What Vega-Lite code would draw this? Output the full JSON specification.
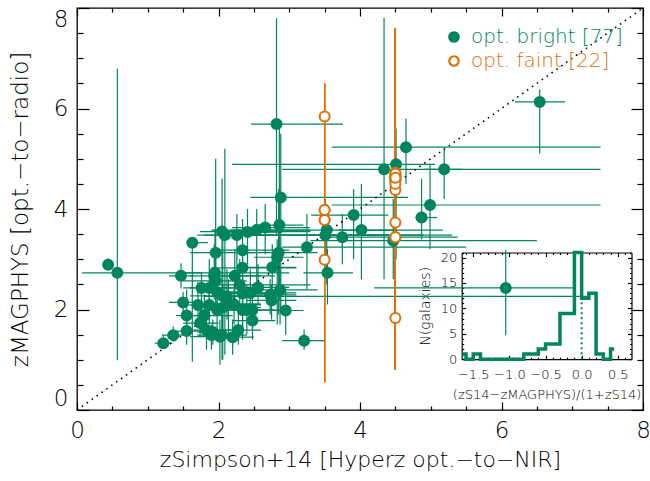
{
  "$schema": "https://vega.github.io/schema/vega-lite/v6.json",
  "autosize": {"type": "none"},
  "padding": {"left": 77, "top": 8, "right": 7, "bottom": 71},
  "width": 566,
  "height": 402,
  "background": "white",
  "config": {
    "view": {"stroke": "black", "strokeWidth": 1.3},
    "font": "DejaVu Sans",
    "axis": {"labelFont": "DejaVu Sans", "titleFont": "DejaVu Sans", "labelFontWeight": 200, "titleFontWeight": 200, "labelColor": "black", "titleColor": "black", "tickColor": "black", "tickWidth": 1.2, "grid": false, "labelOverlap": false, "labelBound": false, "labelFlush": false},
    "legend": {"labelFont": "DejaVu Sans", "labelFontWeight": 200}
  },
  "datasets": {
    "pts": [
      {"s":"b","x":0.44,"y":2.89,"xl":0.44,"xh":0.44,"yl":2.79,"yh":3.02},
      {"s":"b","x":0.57,"y":2.73,"xl":0.07,"xh":1.75,"yl":0.99,"yh":6.79},
      {"s":"b","x":1.22,"y":1.33,"xl":1.1,"xh":1.35,"yl":1.22,"yh":1.5},
      {"s":"b","x":1.36,"y":1.49,"xl":1.2,"xh":1.55,"yl":1.36,"yh":1.66},
      {"s":"b","x":1.47,"y":2.67,"xl":1.3,"xh":1.65,"yl":2.42,"yh":2.92},
      {"s":"b","x":1.63,"y":3.33,"xl":1.55,"xh":1.85,"yl":0.96,"yh":3.42},
      {"s":"b","x":1.5,"y":2.14,"xl":1.3,"xh":1.75,"yl":1.95,"yh":2.35},
      {"s":"b","x":1.55,"y":1.88,"xl":1.4,"xh":1.8,"yl":1.6,"yh":2.4},
      {"s":"b","x":1.55,"y":1.57,"xl":1.35,"xh":1.75,"yl":1.3,"yh":1.8},
      {"s":"b","x":1.71,"y":2.09,"xl":1.45,"xh":2.1,"yl":1.7,"yh":2.55},
      {"s":"b","x":1.76,"y":2.43,"xl":1.5,"xh":2.2,"yl":1.9,"yh":2.75},
      {"s":"b","x":1.87,"y":2.43,"xl":1.6,"xh":2.4,"yl":1.85,"yh":3.0},
      {"s":"b","x":1.87,"y":2.09,"xl":1.6,"xh":2.6,"yl":1.7,"yh":2.4},
      {"s":"b","x":1.8,"y":1.88,"xl":1.55,"xh":2.2,"yl":1.5,"yh":2.3},
      {"s":"b","x":1.74,"y":1.73,"xl":1.5,"xh":2.0,"yl":1.45,"yh":2.1},
      {"s":"b","x":1.83,"y":1.59,"xl":1.6,"xh":2.3,"yl":1.2,"yh":1.9},
      {"s":"b","x":1.9,"y":1.49,"xl":1.7,"xh":2.2,"yl":1.2,"yh":1.7},
      {"s":"b","x":1.94,"y":2.67,"xl":1.6,"xh":2.6,"yl":2.2,"yh":3.3},
      {"s":"b","x":1.95,"y":2.73,"xl":1.5,"xh":3.0,"yl":2.3,"yh":3.6},
      {"s":"b","x":1.96,"y":3.13,"xl":1.6,"xh":2.5,"yl":2.5,"yh":5.0},
      {"s":"b","x":1.96,"y":2.57,"xl":1.5,"xh":2.4,"yl":2.0,"yh":3.0},
      {"s":"b","x":2.05,"y":3.55,"xl":1.74,"xh":3.3,"yl":1.5,"yh":4.6},
      {"s":"b","x":2.09,"y":3.48,"xl":1.7,"xh":4.9,"yl":1.1,"yh":5.2},
      {"s":"b","x":2.06,"y":2.27,"xl":1.6,"xh":2.9,"yl":1.0,"yh":3.5},
      {"s":"b","x":2.12,"y":2.26,"xl":1.8,"xh":7.25,"yl":1.8,"yh":2.8},
      {"s":"b","x":2.06,"y":2.04,"xl":1.7,"xh":2.6,"yl":1.5,"yh":2.5},
      {"s":"b","x":2.14,"y":2.11,"xl":1.8,"xh":2.6,"yl":1.5,"yh":2.6},
      {"s":"b","x":2.05,"y":1.49,"xl":1.8,"xh":2.4,"yl":1.0,"yh":1.9},
      {"s":"b","x":2.02,"y":1.46,"xl":1.6,"xh":2.3,"yl":0.9,"yh":1.8},
      {"s":"b","x":2.26,"y":3.48,"xl":1.8,"xh":4.4,"yl":2.7,"yh":3.9},
      {"s":"b","x":2.41,"y":3.54,"xl":2.1,"xh":2.9,"yl":2.9,"yh":4.0},
      {"s":"b","x":2.34,"y":3.18,"xl":1.9,"xh":3.0,"yl":2.6,"yh":3.8},
      {"s":"b","x":2.34,"y":2.83,"xl":1.9,"xh":3.1,"yl":1.5,"yh":3.3},
      {"s":"b","x":2.23,"y":2.67,"xl":1.9,"xh":2.8,"yl":2.2,"yh":3.2},
      {"s":"b","x":2.3,"y":2.49,"xl":1.8,"xh":3.3,"yl":1.9,"yh":3.0},
      {"s":"b","x":2.34,"y":2.32,"xl":2.0,"xh":2.8,"yl":1.9,"yh":2.8},
      {"s":"b","x":2.28,"y":1.59,"xl":1.9,"xh":2.6,"yl":1.3,"yh":2.0},
      {"s":"b","x":2.34,"y":1.99,"xl":2.0,"xh":2.7,"yl":1.4,"yh":2.6},
      {"s":"b","x":2.4,"y":1.99,"xl":2.1,"xh":2.8,"yl":1.5,"yh":2.5},
      {"s":"b","x":2.48,"y":1.99,"xl":2.2,"xh":2.9,"yl":1.6,"yh":2.5},
      {"s":"b","x":2.48,"y":1.78,"xl":2.2,"xh":2.8,"yl":1.4,"yh":2.1},
      {"s":"b","x":2.45,"y":2.33,"xl":2.0,"xh":3.1,"yl":2.0,"yh":2.8},
      {"s":"b","x":2.56,"y":2.44,"xl":2.3,"xh":3.0,"yl":2.1,"yh":2.9},
      {"s":"b","x":2.54,"y":3.58,"xl":1.9,"xh":3.3,"yl":2.5,"yh":4.0},
      {"s":"b","x":2.66,"y":3.63,"xl":2.19,"xh":3.29,"yl":3.1,"yh":4.1},
      {"s":"b","x":2.88,"y":4.23,"xl":2.45,"xh":4.68,"yl":2.0,"yh":5.5},
      {"s":"b","x":2.86,"y":3.68,"xl":2.5,"xh":3.2,"yl":2.2,"yh":5.7},
      {"s":"b","x":2.85,"y":3.13,"xl":2.4,"xh":3.4,"yl":1.9,"yh":4.4},
      {"s":"b","x":2.83,"y":3.04,"xl":2.5,"xh":3.2,"yl":1.7,"yh":3.4},
      {"s":"b","x":2.76,"y":2.84,"xl":2.4,"xh":3.1,"yl":2.2,"yh":3.3},
      {"s":"b","x":2.73,"y":2.29,"xl":2.3,"xh":3.1,"yl":1.9,"yh":2.6},
      {"s":"b","x":2.75,"y":2.18,"xl":2.4,"xh":3.1,"yl":1.8,"yh":2.5},
      {"s":"b","x":2.87,"y":2.39,"xl":2.4,"xh":3.4,"yl":1.7,"yh":2.8},
      {"s":"b","x":2.95,"y":1.98,"xl":2.7,"xh":3.2,"yl":1.5,"yh":2.4},
      {"s":"b","x":3.21,"y":1.38,"xl":2.9,"xh":3.5,"yl":1.2,"yh":1.6},
      {"s":"b","x":3.25,"y":3.24,"xl":2.9,"xh":5.5,"yl":2.4,"yh":3.9},
      {"s":"b","x":2.82,"y":5.69,"xl":2.46,"xh":3.76,"yl":3.5,"yh":7.8},
      {"s":"b","x":3.53,"y":3.58,"xl":2.16,"xh":5.17,"yl":2.5,"yh":4.1},
      {"s":"b","x":3.51,"y":3.48,"xl":2.0,"xh":5.3,"yl":2.7,"yh":4.2},
      {"s":"b","x":3.75,"y":3.44,"xl":3.58,"xh":5.38,"yl":2.9,"yh":3.9},
      {"s":"b","x":3.91,"y":3.88,"xl":3.31,"xh":4.4,"yl":3.0,"yh":4.4},
      {"s":"b","x":4.02,"y":3.58,"xl":3.7,"xh":4.5,"yl":2.6,"yh":4.5},
      {"s":"b","x":3.54,"y":2.73,"xl":3.2,"xh":3.9,"yl":2.1,"yh":3.2},
      {"s":"b","x":4.34,"y":4.79,"xl":2.9,"xh":7.4,"yl":2.6,"yh":7.8},
      {"s":"b","x":4.51,"y":4.89,"xl":2.19,"xh":5.06,"yl":3.0,"yh":5.6},
      {"s":"b","x":4.65,"y":5.23,"xl":3.6,"xh":7.4,"yl":4.5,"yh":5.8},
      {"s":"b","x":5.19,"y":4.79,"xl":4.9,"xh":5.45,"yl":4.2,"yh":5.2},
      {"s":"b","x":4.99,"y":4.08,"xl":3.6,"xh":7.4,"yl":3.2,"yh":4.9},
      {"s":"b","x":4.87,"y":3.83,"xl":4.78,"xh":5.09,"yl":3.4,"yh":4.6},
      {"s":"b","x":4.47,"y":3.37,"xl":3.3,"xh":6.5,"yl":2.6,"yh":4.2},
      {"s":"b","x":6.54,"y":6.13,"xl":6.19,"xh":6.9,"yl":5.1,"yh":6.38},
      {"s":"b","x":6.06,"y":2.43,"xl":4.2,"xh":7.02,"yl":1.49,"yh":3.19},
      {"s":"b","x":1.98,"y":1.99,"xl":1.7,"xh":2.3,"yl":1.6,"yh":2.4},
      {"s":"b","x":2.22,"y":2.1,"xl":1.9,"xh":2.6,"yl":1.7,"yh":2.5},
      {"s":"b","x":1.98,"y":2.35,"xl":1.7,"xh":2.4,"yl":2.0,"yh":2.7},
      {"s":"b","x":2.2,"y":1.45,"xl":1.9,"xh":2.5,"yl":1.1,"yh":1.8},
      {"s":"b","x":1.92,"y":1.55,"xl":1.7,"xh":2.1,"yl":1.3,"yh":1.8},
      {"s":"f","x":3.5,"y":5.84,"xl":3.5,"xh":3.5,"yl":0.55,"yh":6.5},
      {"s":"f","x":3.5,"y":3.98,"xl":3.5,"xh":3.5,"yl":0.55,"yh":6.5},
      {"s":"f","x":3.5,"y":3.78,"xl":3.5,"xh":3.5,"yl":0.55,"yh":6.5},
      {"s":"f","x":3.5,"y":2.99,"xl":3.5,"xh":3.5,"yl":0.55,"yh":6.5},
      {"s":"f","x":3.5,"y":3.78,"xl":3.5,"xh":3.5,"yl":0.55,"yh":6.5},
      {"s":"f","x":3.5,"y":3.98,"xl":3.5,"xh":3.5,"yl":0.55,"yh":6.5},
      {"s":"f","x":4.5,"y":4.72,"xl":4.5,"xh":4.5,"yl":0.8,"yh":7.6},
      {"s":"f","x":4.5,"y":4.67,"xl":4.5,"xh":4.5,"yl":0.8,"yh":7.6},
      {"s":"f","x":4.5,"y":4.62,"xl":4.5,"xh":4.5,"yl":0.8,"yh":7.6},
      {"s":"f","x":4.5,"y":4.57,"xl":4.5,"xh":4.5,"yl":0.8,"yh":7.6},
      {"s":"f","x":4.5,"y":4.38,"xl":4.5,"xh":4.5,"yl":0.8,"yh":7.6},
      {"s":"f","x":4.5,"y":3.73,"xl":4.5,"xh":4.5,"yl":0.8,"yh":7.6},
      {"s":"f","x":4.5,"y":3.44,"xl":4.5,"xh":4.5,"yl":0.8,"yh":7.6},
      {"s":"f","x":4.5,"y":1.83,"xl":4.5,"xh":4.5,"yl":0.8,"yh":7.6},
      {"s":"f","x":4.5,"y":4.65,"xl":4.5,"xh":4.5,"yl":0.8,"yh":7.6},
      {"s":"f","x":4.5,"y":4.65,"xl":4.5,"xh":4.5,"yl":0.8,"yh":7.6},
      {"s":"f","x":4.5,"y":4.6,"xl":4.5,"xh":4.5,"yl":0.8,"yh":7.6},
      {"s":"f","x":4.5,"y":4.6,"xl":4.5,"xh":4.5,"yl":0.8,"yh":7.6},
      {"s":"f","x":4.5,"y":4.7,"xl":4.5,"xh":4.5,"yl":0.8,"yh":7.6},
      {"s":"f","x":4.5,"y":3.44,"xl":4.5,"xh":4.5,"yl":0.8,"yh":7.6},
      {"s":"f","x":4.5,"y":4.5,"xl":4.5,"xh":4.5,"yl":0.8,"yh":7.6},
      {"s":"f","x":4.5,"y":4.62,"xl":4.5,"xh":4.5,"yl":0.8,"yh":7.6}
    ],
    "hist": [
      {"c":-1.65,"n":1},{"c":-1.55,"n":0},{"c":-1.45,"n":1},{"c":-1.35,"n":0},{"c":-1.25,"n":0},{"c":-1.15,"n":0},{"c":-1.05,"n":0},{"c":-0.95,"n":0},{"c":-0.85,"n":0},{"c":-0.75,"n":1},{"c":-0.65,"n":1},{"c":-0.55,"n":2},{"c":-0.45,"n":3},{"c":-0.35,"n":3},{"c":-0.25,"n":9},{"c":-0.15,"n":9},{"c":-0.05,"n":21},{"c":0.05,"n":12},{"c":0.15,"n":13},{"c":0.25,"n":1},{"c":0.35,"n":0},{"c":0.45,"n":2}
    ]
  },
  "layer": [
    {
      "layer": [
        {
          "data": {"name": "pts"},
          "transform": [{"filter": "datum.s === 'b'"}],
          "mark": {"type": "rule", "strokeWidth": 1.2, "clip": true, "color": "#00855f"},
          "encoding": {
            "x": {"field": "xl", "type": "quantitative", "scale": {"domain": [0, 8], "nice": false, "zero": false},
              "axis": {"orient": "bottom", "values": [0,0.5,1,1.5,2,2.5,3,3.5,4,4.5,5,5.5,6,6.5,7,7.5,8],
                "labelExpr": "datum.value % 2 === 0 ? format(datum.value, 'd') : ''",
                "tickSize": {"condition": {"test": "datum.value % 2 === 0", "value": -8}, "value": -4},
                "labelFontSize": 23, "labelPadding": 17, "domain": false,
                "title": "zSimpson+14 [Hyperz opt.−to−NIR]", "titleFontSize": 22, "titleY": 49, "titleBaseline": "middle"}},
            "x2": {"field": "xh"},
            "y": {"field": "y", "type": "quantitative", "scale": {"domain": [0, 8], "nice": false, "zero": false},
              "axis": {"orient": "left", "values": [0,0.5,1,1.5,2,2.5,3,3.5,4,4.5,5,5.5,6,6.5,7,7.5,8],
                "labelExpr": "datum.value % 2 === 0 ? format(datum.value, 'd') : ''",
                "tickSize": {"condition": {"test": "datum.value % 2 === 0", "value": -12}, "value": -6},
                "labelFontSize": 23, "labelPadding": 21, "labelFlush": true, "domain": false,
                "title": "zMAGPHYS [opt.−to−radio]", "titleFontSize": 23, "titleX": -57, "titleBaseline": "middle"}}
          }
        },
        {
          "data": {"name": "pts"},
          "transform": [{"filter": "datum.s === 'b'"}],
          "mark": {"type": "rule", "strokeWidth": 1.2, "clip": true, "color": "#00855f"},
          "encoding": {
            "x": {"field": "x", "type": "quantitative", "scale": {"domain": [0, 8], "nice": false, "zero": false},
              "axis": {"orient": "top", "values": [0,0.5,1,1.5,2,2.5,3,3.5,4,4.5,5,5.5,6,6.5,7,7.5,8], "labels": false, "domain": false, "title": null,
                "tickSize": {"condition": {"test": "datum.value % 2 === 0", "value": -8}, "value": -4}}},
            "y": {"field": "yl", "type": "quantitative", "scale": {"domain": [0, 8], "nice": false, "zero": false},
              "axis": {"orient": "right", "values": [0,0.5,1,1.5,2,2.5,3,3.5,4,4.5,5,5.5,6,6.5,7,7.5,8], "labels": false, "domain": false, "title": null,
                "tickSize": {"condition": {"test": "datum.value % 2 === 0", "value": -12}, "value": -6}}},
            "y2": {"field": "yh"}
          }
        },
        {
          "data": {"name": "pts"},
          "transform": [{"filter": "datum.s === 'f'"}],
          "mark": {"type": "rule", "strokeWidth": 1.2, "clip": true, "color": "#e0700a"},
          "encoding": {
            "x": {"field": "x", "type": "quantitative", "scale": {"domain": [0, 8], "nice": false, "zero": false}, "axis": null},
            "y": {"field": "yl", "type": "quantitative", "scale": {"domain": [0, 8], "nice": false, "zero": false}, "axis": null},
            "y2": {"field": "yh"}
          }
        },
        {
          "data": {"values": [{"d": 0}, {"d": 8}]},
          "mark": {"type": "line", "color": "black", "strokeWidth": 1.6, "strokeDash": [1.5, 4.5], "clip": true},
          "encoding": {
            "x": {"field": "d", "type": "quantitative", "scale": {"domain": [0, 8], "nice": false, "zero": false}, "axis": null},
            "y": {"field": "d", "type": "quantitative", "scale": {"domain": [0, 8], "nice": false, "zero": false}, "axis": null}
          }
        },
        {
          "data": {"name": "pts"},
          "mark": {"type": "point", "shape": "circle", "size": 100, "strokeWidth": 2, "opacity": 1},
          "encoding": {
            "x": {"field": "x", "type": "quantitative", "scale": {"domain": [0, 8], "nice": false, "zero": false}, "axis": null},
            "y": {"field": "y", "type": "quantitative", "scale": {"domain": [0, 8], "nice": false, "zero": false}, "axis": null},
            "stroke": {"field": "s", "type": "nominal", "scale": {"domain": ["b", "f"], "range": ["#00855f", "#e0700a"]},
              "legend": {"orient": "none", "legendX": 367, "legendY": 19, "title": null, "padding": 0,
                "labelExpr": "datum.value === 'b' ? 'opt. bright [77]' : 'opt. faint [22]'",
                "labelColor": {"expr": "datum.value === 'f' ? '#e0700a' : '#00855f'"},
                "labelFontSize": 20, "labelFontWeight": 300, "labelOffset": 7, "rowPadding": 4, "symbolSize": 90, "symbolStrokeWidth": 2.2}},
            "fill": {"field": "s", "type": "nominal", "scale": {"domain": ["b", "f"], "range": ["#00855f", "white"]},
              "legend": {"orient": "none", "legendX": 367, "legendY": 19, "title": null, "padding": 0,
                "labelExpr": "datum.value === 'b' ? 'opt. bright [77]' : 'opt. faint [22]'",
                "labelColor": {"expr": "datum.value === 'f' ? '#e0700a' : '#00855f'"},
                "labelFontSize": 20, "labelFontWeight": 300, "labelOffset": 7, "rowPadding": 4, "symbolSize": 90, "symbolStrokeWidth": 2.2}}
          }
        }
      ],
      "resolve": {"axis": {"x": "independent", "y": "independent"}}
    },
    {
      "layer": [
        {
          "data": {"name": "hist"},
          "mark": {"type": "line", "interpolate": "step", "color": "#00855f", "strokeWidth": 3.5},
          "encoding": {
            "x": {"field": "c", "type": "quantitative", "scale": {"domain": [-1.66, 0.69], "range": [384.7, 554.5], "nice": false, "zero": false},
              "axis": {"orient": "bottom", "offset": -50.8, "values": [-1.6,-1.5,-1.4,-1.3,-1.2,-1.1,-1.0,-0.9,-0.8,-0.7,-0.6,-0.5,-0.4,-0.3,-0.2,-0.1,0,0.1,0.2,0.3,0.4,0.5,0.6],
                "labelExpr": "abs(datum.value*2 - round(datum.value*2)) < 0.001 ? format(datum.value, '.1f') : ''",
                "tickSize": {"condition": {"test": "abs(datum.value*2 - round(datum.value*2)) < 0.001", "value": -4}, "value": -2},
                "labelFontSize": 13, "labelPadding": 13, "domain": true, "domainColor": "black", "domainWidth": 1.2,
                "title": "(zS14−zMAGPHYS)/(1+zS14)", "titleFontSize": 13, "titleY": 35, "titleBaseline": "middle"}},
            "y": {"field": "n", "type": "quantitative", "scale": {"domain": [0, 21], "range": [351.2, 244.5], "nice": false, "zero": false},
              "axis": {"orient": "left", "offset": -384.7, "values": [0,1,2,3,4,5,6,7,8,9,10,11,12,13,14,15,16,17,18,19,20,21],
                "labelExpr": "datum.value % 5 === 0 ? datum.label : ''",
                "tickSize": {"condition": {"test": "datum.value % 5 === 0", "value": -4}, "value": -2},
                "labelFontSize": 13, "labelPadding": 9, "domain": true, "domainColor": "black", "domainWidth": 1.2,
                "title": "N(galaxies)", "titleFontSize": 14, "titleX": -36, "titleBaseline": "middle"}}
          }
        },
        {
          "data": {"values": [{"z": 0, "lo": 0, "hi": 12}]},
          "mark": {"type": "rule", "color": "#00855f", "strokeWidth": 2, "strokeDash": [2, 3]},
          "encoding": {
            "x": {"field": "z", "type": "quantitative", "scale": {"domain": [-1.66, 0.69], "range": [384.7, 554.5], "nice": false, "zero": false},
              "axis": {"orient": "top", "offset": -244.5, "values": [-1.6,-1.5,-1.4,-1.3,-1.2,-1.1,-1.0,-0.9,-0.8,-0.7,-0.6,-0.5,-0.4,-0.3,-0.2,-0.1,0,0.1,0.2,0.3,0.4,0.5,0.6],
                "labels": false, "title": null, "domain": true, "domainColor": "black", "domainWidth": 1.2,
                "tickSize": {"condition": {"test": "abs(datum.value*2 - round(datum.value*2)) < 0.001", "value": -4}, "value": -2}}},
            "y": {"field": "lo", "type": "quantitative", "scale": {"domain": [0, 21], "range": [351.2, 244.5], "nice": false, "zero": false},
              "axis": {"orient": "right", "offset": -11.5, "values": [0,1,2,3,4,5,6,7,8,9,10,11,12,13,14,15,16,17,18,19,20,21],
                "labels": false, "title": null, "domain": true, "domainColor": "black", "domainWidth": 1.2,
                "tickSize": {"condition": {"test": "datum.value % 5 === 0", "value": -4}, "value": -2}}},
            "y2": {"field": "hi"}
          }
        }
      ],
      "resolve": {"axis": {"x": "independent", "y": "independent"}}
    }
  ],
  "resolve": {"scale": {"x": "independent", "y": "independent"}, "axis": {"x": "independent", "y": "independent"}}
}
